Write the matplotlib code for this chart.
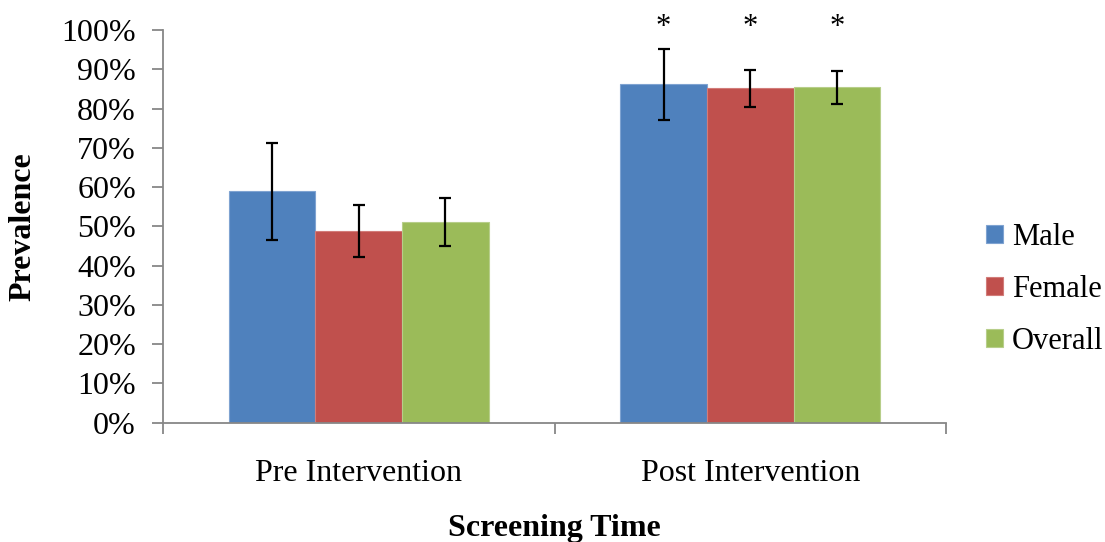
import matplotlib
matplotlib.use("Agg")
import matplotlib.pyplot as plt
import numpy as np
from matplotlib.ticker import PercentFormatter, FixedLocator, NullFormatter

plt.rcParams['font.family'] = ['Liberation Serif', 'DejaVu Serif']

categories = ["Pre Intervention", "Post Intervention"]
series = ["Male", "Female", "Overall"]
colors = ["#4F81BD", "#C0504D", "#9BBB59"]
edge_colors = ["#7FA3D1", "#D27C79", "#B7CE8A"]

male = [0.589, 0.862]
female = [0.488, 0.852]
overall = [0.511, 0.854]
male_err = [0.123, 0.090]
female_err = [0.067, 0.047]
overall_err = [0.060, 0.042]
post_marks = ["*", "*", "*"]

values = [male, female, overall]
errors = [male_err, female_err, overall_err]

fig = plt.figure(figsize=(11.05, 5.42), dpi=100)
W, H = 1105, 542
ax = fig.add_axes([163 / W, 1 - 422.7 / H, (946 - 163) / W, (422.7 - 30) / H])

x = np.arange(len(categories))
bw = 0.2215
for i, (name, vals, errs) in enumerate(zip(series, values, errors)):
    pos = x + (i - 1) * bw
    ax.bar(pos, vals, width=bw, color=colors[i], edgecolor=edge_colors[i],
           linewidth=0.8, label=name, zorder=2)
    ax.errorbar(pos, vals, yerr=errs, fmt="none", ecolor="black",
                elinewidth=1.6, capsize=4.5, capthick=1.6, zorder=3)

# significance markers above the post-intervention bars
for i, mark in enumerate(post_marks):
    ax.text(x[1] + (i - 1) * bw, 0.987, mark, ha="center", va="baseline",
            fontsize=22, clip_on=False)

ax.set_xlim(-0.5, 1.5)
ax.set_ylim(0, 1.0)
ax.yaxis.set_major_locator(FixedLocator(np.linspace(0, 1, 11)))
ax.yaxis.set_major_formatter(PercentFormatter(1.0, decimals=0))

# category boundaries carry the x tick marks; labels sit at category centres
ax.set_xticks([-0.5, 0.5, 1.5])
ax.xaxis.set_major_formatter(NullFormatter())
ax.set_xticks(x, minor=True)
ax.set_xticklabels(categories, minor=True, fontsize=23)
ax.tick_params(axis="x", which="minor", length=0, pad=26)
ax.tick_params(axis="x", which="major", length=8, width=1.3, color="#878787", direction="out")
ax.tick_params(axis="y", length=8, width=1.3, color="#878787", labelsize=23, pad=11.5)

for s in ["top", "right"]:
    ax.spines[s].set_visible(False)
for s in ["left", "bottom"]:
    ax.spines[s].set_color("#878787")
    ax.spines[s].set_linewidth(1.3)

ax.set_ylabel("Prevalence", fontsize=23, fontweight="bold")
ax.set_xlabel("Screening Time", fontsize=23, fontweight="bold")
ax.yaxis.set_label_coords(-0.160, 0.5)
ax.xaxis.set_label_coords(0.5, -0.232)

ax.legend(loc="center left", bbox_to_anchor=(1.051, 0.34), frameon=False,
          fontsize=22, handlelength=0.55, handleheight=0.55,
          labelspacing=0.75, handletextpad=0.3, borderpad=0, borderaxespad=0)

fig.savefig("out.png", dpi=100)
